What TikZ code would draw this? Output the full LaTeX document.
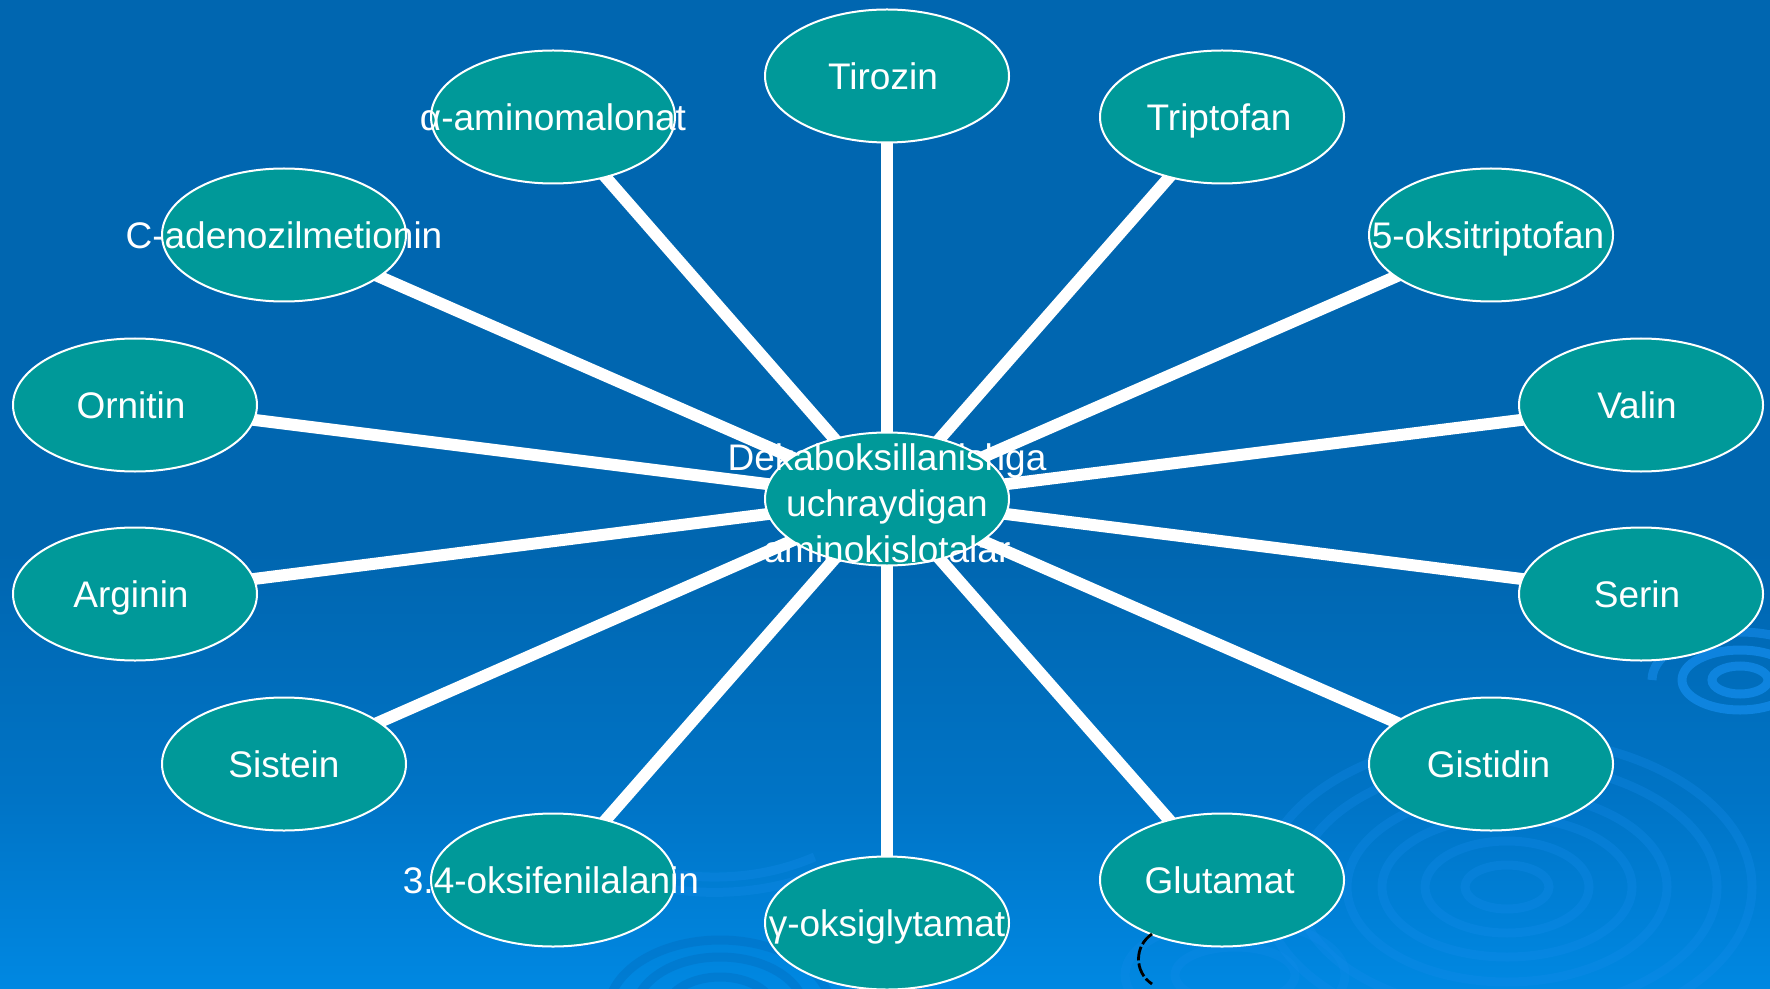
\documentclass[tikz,border=0pt]{standalone}
\usepackage{fontspec}
\setmainfont{Liberation Sans}
\usetikzlibrary{shapes.geometric,backgrounds}
\definecolor{bgtop}{RGB}{0,102,176}
\definecolor{bgmid}{RGB}{0,116,198}
\definecolor{bgbot}{RGB}{0,136,226}
\definecolor{nodeteal}{RGB}{0,153,153}
\definecolor{ripplelight}{RGB}{20,140,235}
\definecolor{rippledark}{RGB}{0,108,190}
\begin{document}
\begin{tikzpicture}[x=0.5pt,y=-0.5pt,
  amino/.style={ellipse, draw=white, line width=1pt, fill=nodeteal,
    minimum width=122pt, minimum height=66.5pt, inner sep=0pt},
  lbl/.style={text=white, font=\fontsize{18.5}{22.5}\selectfont,
    text height=13.2pt, text depth=0pt, inner sep=0pt},
  clbl/.style={text=white, font=\fontsize{18.5}{23}\selectfont,
    align=center, inner sep=0pt},
  spoke/.style={draw=white, line width=6pt},
  ring/.style={draw=ripplelight, line width=4.5pt, opacity=0.3},
  dring/.style={draw=rippledark, line width=4.5pt, opacity=0.4}]
\useasboundingbox (0,0) rectangle (1770,989);

% nodes
\node[amino] (c) at (887,499) {};
\node[clbl] (cT) at (887,503) {Dekaboksillanishga\\uchraydigan\\aminokislotalar};

\node[amino] (tir) at (887,76) {};
\node[lbl] (tirT) at ([xshift=-2pt]tir.center) {Tirozin};
\node[amino] (ama) at (553,117) {};
\node[lbl] (amaT) at (ama.center) {α-aminomalonat};
\node[amino] (tri) at (1222,117) {};
\node[lbl] (triT) at ([xshift=-1.5pt]tri.center) {Triptofan};
\node[amino] (ade) at (284,235) {};
\node[lbl] (adeT) at (ade.center) {C-adenozilmetionin};
\node[amino] (okt) at (1491,235) {};
\node[lbl] (oktT) at ([xshift=-1.5pt]okt.center) {5-oksitriptofan};
\node[amino] (orn) at (135,405) {};
\node[lbl] (ornT) at ([xshift=-2pt]orn.center) {Ornitin};
\node[amino] (val) at (1641,405) {};
\node[lbl] (valT) at ([xshift=-2pt]val.center) {Valin};
\node[amino] (arg) at (135,594) {};
\node[lbl] (argT) at ([xshift=-2pt]arg.center) {Arginin};
\node[amino] (ser) at (1641,594) {};
\node[lbl] (serT) at ([xshift=-2pt]ser.center) {Serin};
\node[amino] (sis) at (284,764) {};
\node[lbl] (sisT) at (sis.center) {Sistein};
\node[amino] (gis) at (1491,764) {};
\node[lbl] (gisT) at ([xshift=-1.2pt]gis.center) {Gistidin};
\node[amino] (ofa) at (553,880) {};
\node[lbl] (ofaT) at ([xshift=-1pt]ofa.center) {3.4-oksifenilalanin};
\node[amino] (glu) at (1222,880) {};
\node[lbl] (gluT) at ([xshift=-1.2pt]glu.center) {Glutamat};
\node[amino] (ogl) at (887,923) {};
\node[lbl] (oglT) at (ogl.center) {γ-oksiglytamat};

\begin{scope}[on background layer]
  % background gradient
  \fill[bgtop] (0,0) rectangle (1770,552);
  \shade[top color=bgtop, bottom color=bgmid] (0,550) rectangle (1770,802);
  \shade[top color=bgmid, bottom color=bgbot] (0,800) rectangle (1770,989);
  % ripples (big, bottom right)
  \foreach \rx/\ry in {42/22, 82/46, 125/70, 160/95, 210/125, 245/150}
    \draw[ring] (1507,887) ellipse [x radius=\rx, y radius=\ry];
  % ripples (small, right)
  \foreach \rx/\ry in {28/14, 58/30}
    \draw[ring, opacity=0.75] (1740,680) ellipse [x radius=\rx, y radius=\ry];
  \draw[ring, opacity=0.6] (1740,680) ++(-88,0) arc[start angle=180, end angle=330, x radius=88, y radius=48];
  % ripples (bottom centre)
  \foreach \rx/\ry in {55/35, 85/55, 112/72}
    \draw[dring] (720,1012) ellipse [x radius=\rx, y radius=\ry];
  \draw[dring] (720,1000) ++(175,0) arc[start angle=0, end angle=-60, x radius=175, y radius=110];
  \draw[ring] (720,1000) ++(-90,-137) arc[start angle=115, end angle=60, x radius=200, y radius=150];
  \draw[ring] (720,1000) ++(-90,-120) arc[start angle=115, end angle=60, x radius=200, y radius=132];
  \foreach \rx/\ry in {60/28, 110/55}
    \draw[ring, opacity=0.25] (1235,975) ellipse [x radius=\rx, y radius=\ry];
  % spokes
  \foreach \n in {tir,ama,tri,ade,okt,orn,val,arg,ser,sis,gis,ofa,glu,ogl}
    \draw[spoke] (c.center) -- (\n.center);
\end{scope}

% small black mark under Glutamat
\draw[black, line width=1.4pt, dash pattern=on 7pt off 1.5pt]
  (1152,934) .. controls (1134,946) and (1134,972) .. (1152,984);
\end{tikzpicture}
\end{document}
